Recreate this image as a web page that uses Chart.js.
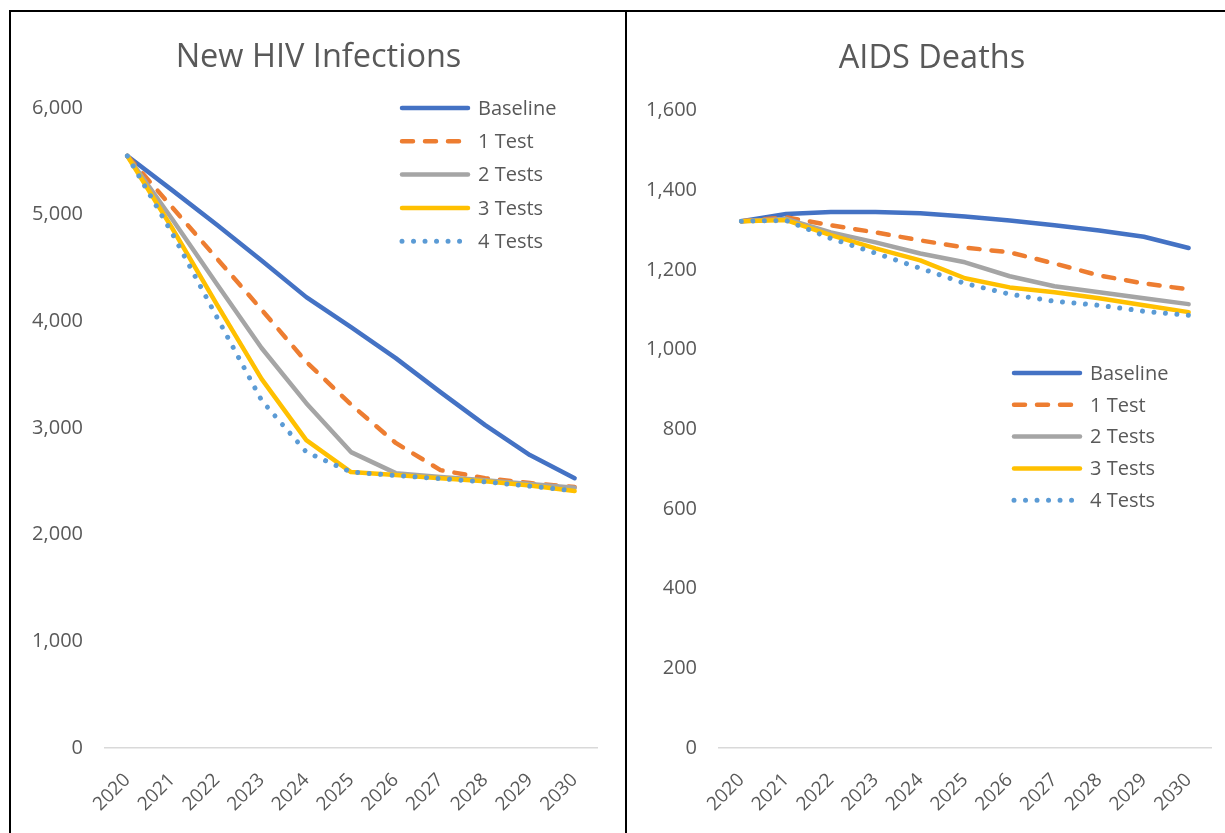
<!DOCTYPE html>
<html lang="en">
<head>
  <meta charset="UTF-8" />
  <title>New HIV Infections and AIDS Deaths</title>
  <script src="https://cdn.jsdelivr.net/npm/chart.js"></script>
  <style>
    html, body { margin: 0; padding: 0; background: #fff; overflow: hidden; }
    body { width: 1225px; height: 833px; position: relative; }
    .frame { position: absolute; box-sizing: border-box; border: 0 solid #000; }
    #frameLeft { left: 9px; top: 10px; width: 618px; height: 900px; border-width: 2px 2px 0 2px; }
    #frameRight { left: 625px; top: 10px; width: 700px; height: 900px; border-top-width: 2px; }
    .box { position: absolute; }
    #leftBox { left: 12px; top: 13px; width: 613px; height: 820px; }
    #rightBox { left: 629px; top: 13px; width: 596px; height: 820px; }
  </style>
</head>
<body>
  <div class="frame" id="frameLeft"></div>
  <div class="frame" id="frameRight"></div>
  <div class="box" id="leftBox"><canvas id="hivChart"></canvas></div>
  <div class="box" id="rightBox"><canvas id="deathChart"></canvas></div>

  <script>
    const years = ['2020', '2021', '2022', '2023', '2024', '2025', '2026', '2027', '2028', '2029', '2030'];
    const seriesNames = ['Baseline', '1 Test', '2 Tests', '3 Tests', '4 Tests'];

    // New HIV infections
    const hivBaseline = [5550, 5230, 4905, 4570, 4227, 3946, 3655, 3336, 3027, 2746, 2530];
    const hivTest1 = [5550, 5070, 4590, 4110, 3620, 3220, 2860, 2605, 2530, 2484, 2446];
    const hivTest2 = [5550, 4960, 4350, 3750, 3233, 2774, 2577, 2540, 2510, 2475, 2440];
    const hivTest3 = [5550, 4875, 4160, 3460, 2887, 2587, 2560, 2530, 2500, 2460, 2410];
    const hivTest4 = [5550, 4826, 4040, 3260, 2774, 2587, 2555, 2525, 2495, 2455, 2410];

    // AIDS deaths
    const deathBaseline = [1322, 1340, 1345, 1345, 1342, 1334, 1324, 1312, 1299, 1283, 1255];
    const deathTest1 = [1322, 1332, 1312, 1294, 1274, 1256, 1244, 1216, 1186, 1166, 1151];
    const deathTest2 = [1322, 1328, 1294, 1269, 1241, 1219, 1184, 1159, 1144, 1129, 1114];
    const deathTest3 = [1322, 1325, 1287, 1254, 1224, 1179, 1156, 1144, 1129, 1111, 1094];
    const deathTest4 = [1322, 1324, 1279, 1242, 1204, 1166, 1139, 1121, 1111, 1096, 1086];

    const textColor = '#595959';
    const fontFamily = '"Open Sans", "Noto Sans", sans-serif';

    const lineStyles = [
      { color: '#4472C4', dash: [] },
      { color: '#ED7D31', dash: [11, 12] },
      { color: '#A5A5A5', dash: [] },
      { color: '#FFC000', dash: [] },
      { color: '#5B9BD5', dash: [0.01, 11.5] }
    ];

    function makeDatasets(seriesData) {
      return seriesData.map((values, i) => ({
        label: seriesNames[i],
        data: values,
        borderColor: lineStyles[i].color,
        backgroundColor: lineStyles[i].color,
        borderDash: lineStyles[i].dash,
        borderWidth: i === 4 ? 5 : 4.5,
        borderCapStyle: 'round',
        borderJoinStyle: 'round',
        pointRadius: 0,
        pointHoverRadius: 0,
        tension: 0,
        fill: false,
        order: seriesData.length - i
      }));
    }

    // legend drawn inside the plot area, rows listed top to bottom
    const boxLegend = {
      id: 'boxLegend',
      afterDraw(chart, args, opts) {
        const ctx = chart.ctx;
        ctx.save();
        ctx.font = '20px ' + fontFamily;
        ctx.fillStyle = textColor;
        ctx.textBaseline = 'middle';
        chart.data.datasets.forEach((ds, i) => {
          const y = opts.y + i * opts.rowGap;
          ctx.beginPath();
          ctx.strokeStyle = ds.borderColor;
          ctx.lineWidth = ds.borderWidth;
          ctx.lineCap = 'round';
          ctx.setLineDash(ds.borderDash);
          ctx.moveTo(opts.x + 2, y);
          ctx.lineTo(opts.x + 68, y);
          ctx.stroke();
          ctx.setLineDash([]);
          ctx.fillText(ds.label, opts.x + 78, y + 1);
        });
        ctx.restore();
      }
    };

    function makeChart(canvasId, title, seriesData, yMax, yStep, axisWidth, pad, legendPos) {
      return new Chart(document.getElementById(canvasId), {
        type: 'line',
        data: { labels: years, datasets: makeDatasets(seriesData) },
        options: {
          responsive: true,
          maintainAspectRatio: false,
          animation: false,
          layout: { padding: { left: pad.left, right: 0, top: 0, bottom: 0 } },
          plugins: {
            legend: { display: false },
            tooltip: { enabled: false },
            title: {
              display: true,
              text: title,
              color: textColor,
              font: { family: fontFamily, size: 32.5, weight: 'normal' },
              padding: { top: pad.titleTop, bottom: pad.titleBottom }
            },
            boxLegend: legendPos
          },
          scales: {
            x: {
              offset: true,
              grid: { display: false },
              border: { display: true, color: '#D9D9D9', width: 1.5 },
              ticks: {
                color: textColor,
                font: { family: fontFamily, size: 19 },
                maxRotation: 45,
                minRotation: 45,
                padding: 13
              },
              afterFit(scale) { scale.height = 85; }
            },
            y: {
              min: 0,
              max: yMax,
              grid: { display: false },
              border: { display: false },
              ticks: {
                stepSize: yStep,
                color: textColor,
                padding: 14,
                font: { family: fontFamily, size: 20 },
                callback: v => v.toLocaleString('en-US')
              },
              afterFit(scale) { scale.width = axisWidth; }
            },
            // empty right-hand spacer so the title stays centred on the panel
            spacer: {
              type: 'linear',
              position: 'right',
              display: true,
              min: 0,
              max: yMax,
              grid: { display: false },
              border: { display: false },
              ticks: { display: false },
              afterFit(scale) { scale.width = pad.right; }
            }
          }
        },
        plugins: [boxLegend]
      });
    }

    makeChart('hivChart', 'New HIV Infections',
      [hivBaseline, hivTest1, hivTest2, hivTest3, hivTest4],
      6000, 1000, 93,
      { left: 0, right: 28, titleTop: 25, titleBottom: 31 },
      { x: 388, y: 95, rowGap: 33.3 });

    makeChart('deathChart', 'AIDS Deaths',
      [deathBaseline, deathTest1, deathTest2, deathTest3, deathTest4],
      1600, 200, 80,
      { left: 10, right: 14, titleTop: 26, titleBottom: 32.5 },
      { x: 383, y: 360, rowGap: 31.8 });
  </script>
</body>
</html>
